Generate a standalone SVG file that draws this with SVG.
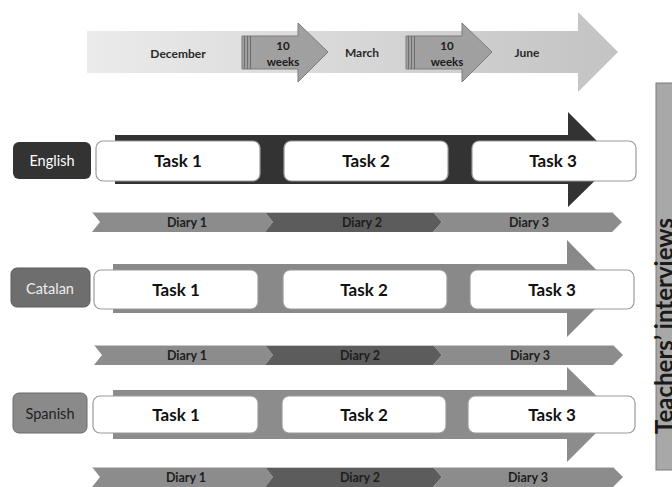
<svg xmlns="http://www.w3.org/2000/svg" width="672" height="487" viewBox="0 0 672 487">
<defs>
<linearGradient id="tl" x1="0" y1="0" x2="1" y2="0">
<stop offset="0" stop-color="#ebebeb"/>
<stop offset="1" stop-color="#c3c3c3"/>
</linearGradient>
<style>
text{font-family:"Lato","Liberation Sans",sans-serif;font-weight:bold;text-anchor:middle;dominant-baseline:central}
.mon{font-size:12px;fill:#2a2a2a}
.wk{font-size:11.5px;fill:#1a1a1a}
.wka{fill:#a0a0a0;stroke:#7c7c7c;stroke-width:1}
.stripe{stroke:#6e6e6e;stroke-width:1}
.task{fill:#fff;stroke:#9a9a9a;stroke-width:1.2}
.tt{font-size:17px;fill:#111}
.d1{fill:#8c8c8c}
.d2{fill:#5c5c5c}
.dt{font-size:12.5px;fill:#1e1e1e}
.hl{stroke:#c8c8c8;stroke-width:1}
.lb{font-size:14.5px;font-weight:normal}
</style>
</defs>
<rect width="672" height="487" fill="#fff"/>

<g id="timeline">
<polygon points="87,31 578,31 578,12 618,52 578,92 578,73 87,73" fill="url(#tl)"/>
<text class="mon" x="178" y="53">December</text>
<text class="mon" x="362" y="52">March</text>
<text class="mon" x="527" y="52">June</text>
</g>

<g id="weeks1">
<polygon class="wka" points="242,36 298,36 298,23 328,52 298,82 298,69 242,69"/>
<line class="stripe" x1="244.5" y1="36" x2="244.5" y2="69"/>
<line class="stripe" x1="247.5" y1="36" x2="247.5" y2="69"/>
<line class="stripe" x1="250.5" y1="36" x2="250.5" y2="69"/>
<text class="wk" x="283" y="45">10</text>
<text class="wk" x="283" y="61">weeks</text>
</g>
<g id="weeks2">
<polygon class="wka" points="406,36 462,36 462,23 492,52 462,82 462,69 406,69"/>
<line class="stripe" x1="408.5" y1="36" x2="408.5" y2="69"/>
<line class="stripe" x1="411.5" y1="36" x2="411.5" y2="69"/>
<line class="stripe" x1="414.5" y1="36" x2="414.5" y2="69"/>
<text class="wk" x="447" y="45">10</text>
<text class="wk" x="447" y="61">weeks</text>
</g>

<g id="interviews">
<rect x="656" y="83" width="20" height="387" fill="#a8a8a8" stroke="#7a7a7a" stroke-width="1"/>
<text transform="translate(673,326) rotate(-90)" style="font-size:24px;fill:#1a1a1a;dominant-baseline:auto">Teachers’ interviews</text>
</g>

<!-- English row -->
<g id="english">
<polygon points="115,135 568,135 568,112 616,160 568,207 568,184 115,184" fill="#333"/>
<rect x="13" y="142" width="78" height="37" rx="6" fill="#333"/>
<text class="lb" x="52" y="160" fill="#fff">English</text>
<rect class="task" x="96" y="141" width="164" height="40" rx="7"/>
<rect class="task" x="284" y="141" width="164" height="40" rx="7"/>
<rect class="task" x="472" y="141" width="164" height="40" rx="7"/>
<text class="tt" x="178" y="160">Task 1</text>
<text class="tt" x="366" y="160">Task 2</text>
<text class="tt" x="553" y="160">Task 3</text>
</g>
<g id="english-diaries">
<polygon class="d1" points="92,212 265,212 273,222 265,232 92,232 100,222"/>
<polygon class="d2" points="265,212 433,212 442,222 433,232 265,232 273,222"/>
<polygon class="d1" points="433,212 612,212 622,222 612,232 433,232 442,222"/>
<line class="hl" x1="92" y1="212.5" x2="612" y2="212.5"/>
<text class="dt" x="187" y="222">Diary 1</text>
<text class="dt" x="362" y="222">Diary 2</text>
<text class="dt" x="529" y="222">Diary 3</text>
</g>

<!-- Catalan row -->
<g id="catalan">
<polygon points="113,264 567,264 567,240 615,289 567,337 567,313 113,313" fill="#898989"/>
<rect x="11" y="268" width="79" height="39" rx="6" fill="#6e6e6e" stroke="#5a5a5a" stroke-width="1"/>
<text class="lb" x="50" y="288" fill="#eee">Catalan</text>
<rect class="task" x="94" y="270" width="164" height="39" rx="7"/>
<rect class="task" x="283" y="270" width="164" height="39" rx="7"/>
<rect class="task" x="470" y="270" width="164" height="39" rx="7"/>
<text class="tt" x="176" y="289">Task 1</text>
<text class="tt" x="364" y="289">Task 2</text>
<text class="tt" x="552" y="289">Task 3</text>
</g>
<g id="catalan-diaries">
<polygon class="d1" points="94,345 265,345 273,355 265,365 94,365 102,355"/>
<polygon class="d2" points="265,345 433,345 442,355 433,365 265,365 273,355"/>
<polygon class="d1" points="433,345 613,345 623,355 613,365 433,365 442,355"/>
<line class="hl" x1="94" y1="345.5" x2="613" y2="345.5"/>
<text class="dt" x="187" y="355">Diary 1</text>
<text class="dt" x="360" y="355">Diary 2</text>
<text class="dt" x="530" y="355">Diary 3</text>
</g>

<!-- Spanish row -->
<g id="spanish">
<polygon points="113,390 567,390 567,367 615,414 567,462 567,439 113,439" fill="#8c8c8c"/>
<rect x="13" y="393" width="74" height="40" rx="6" fill="#8a8a8a" stroke="#6a6a6a" stroke-width="1"/>
<text class="lb" x="50" y="413" fill="#222">Spanish</text>
<rect class="task" x="93" y="396" width="165" height="37" rx="7"/>
<rect class="task" x="282" y="396" width="164" height="37" rx="7"/>
<rect class="task" x="468" y="396" width="167" height="37" rx="7"/>
<text class="tt" x="176" y="414">Task 1</text>
<text class="tt" x="364" y="414">Task 2</text>
<text class="tt" x="552" y="414">Task 3</text>
</g>
<g id="spanish-diaries">
<polygon class="d1" points="92,467 265,467 273,477 265,487 92,487 100,477"/>
<polygon class="d2" points="265,467 433,467 442,477 433,487 265,487 273,477"/>
<polygon class="d1" points="433,467 613,467 623,477 613,487 433,487 442,477"/>
<line class="hl" x1="92" y1="467.5" x2="613" y2="467.5"/>
<text class="dt" x="186" y="477">Diary 1</text>
<text class="dt" x="360" y="477">Diary 2</text>
<text class="dt" x="528" y="477">Diary 3</text>
</g>
</svg>
